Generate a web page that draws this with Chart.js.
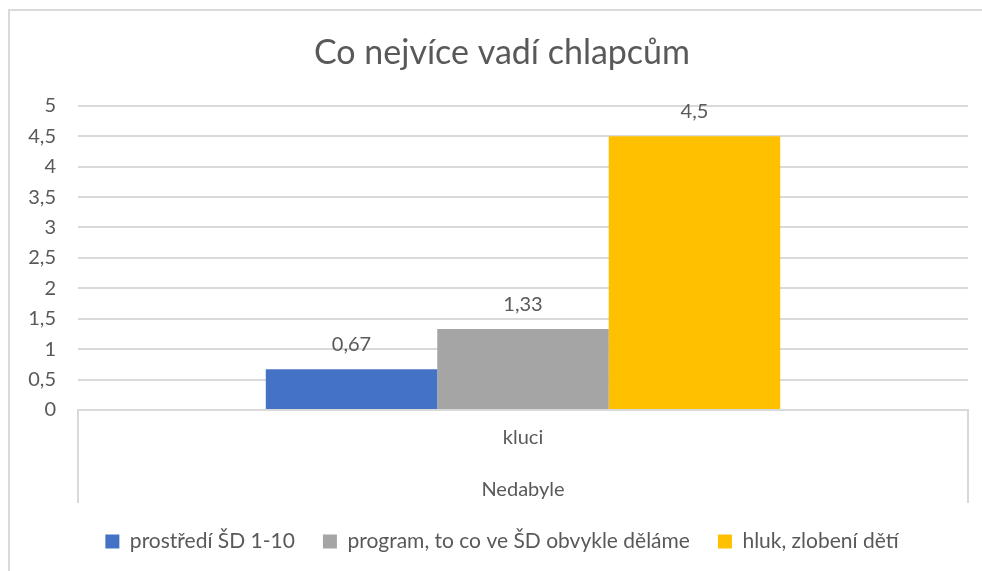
<!DOCTYPE html>
<html>
<head>
<meta charset="utf-8">
<script src="https://cdn.jsdelivr.net/npm/chart.js@4/dist/chart.umd.min.js"></script>
<style>
  html, body { margin: 0; padding: 0; background: #fff; overflow: hidden; }
  #frame { position: absolute; left: 8px; top: 9px; width: 1000px; height: 600px; border: 2px solid #d9d9d9; }
  #chart { position: absolute; left: 0; top: 0; }
</style>
</head>
<body>
<div id="frame"></div>
<canvas id="chart" width="982" height="571"></canvas>
<script>
// data
const categories = ['kluci'];
const groups = ['Nedabyle'];
const seriesNames = ['prostředí ŠD 1-10', 'program, to co ve ŠD obvykle děláme', 'hluk, zlobení dětí'];
const seriesValues = [[0.67], [1.33], [4.5]];
const seriesColors = ['#4472C4', '#A5A5A5', '#FFC000'];
const yTicks = [0, 0.5, 1, 1.5, 2, 2.5, 3, 3.5, 4, 4.5, 5];

const textColor = '#595959';
const gridColor = '#d9d9d9';
const font = 'Lato';
const fontSize = 20;

// czech decimal comma
function fmt(v) {
    return String(v).replace('.', ',');
}

// draws value labels above the bars
const valueLabels = {
    id: 'valueLabels',
    afterDatasetsDraw(chart) {
        const ctx = chart.ctx;
        ctx.save();
        ctx.fillStyle = textColor;
        ctx.font = fontSize + 'px ' + font;
        ctx.textAlign = 'center';
        ctx.textBaseline = 'bottom';
        chart.data.datasets.forEach((ds, i) => {
            chart.getDatasetMeta(i).data.forEach((bar, j) => {
                ctx.fillText(fmt(ds.data[j]), bar.x, bar.y - 15);
            });
        });
        ctx.restore();
    }
};

// vertical separators of the category axis box
const axisBox = {
    id: 'axisBox',
    afterDraw(chart) {
        const x = chart.scales.x, x2 = chart.scales.x2;
        const ctx = chart.ctx;
        ctx.save();
        ctx.strokeStyle = gridColor;
        ctx.lineWidth = 2;
        [x.left, x.right].forEach(px => {
            ctx.beginPath();
            ctx.moveTo(px, x.top);
            ctx.lineTo(px, x2.bottom);
            ctx.stroke();
        });
        ctx.restore();
    }
};

new Chart(document.getElementById('chart').getContext('2d'), {
    type: 'bar',
    data: {
        labels: categories,
        datasets: seriesNames.map((name, i) => ({
            label: name,
            data: seriesValues[i],
            backgroundColor: seriesColors[i],
            borderWidth: 0,
            categoryPercentage: 0.578,
            barPercentage: 1
        }))
    },
    options: {
        responsive: false,
        animation: false,
        devicePixelRatio: 1,
        // the excel frame runs past the right edge, so title and legend are centred on it
        layout: { padding: { left: 0, right: -22, top: 0, bottom: 9 } },
        plugins: {
            title: {
                display: true,
                text: 'Co nejvíce vadí chlapcům',
                color: textColor,
                font: { family: font, size: 34, weight: 'normal' },
                padding: { top: 33, bottom: 32 }
            },
            legend: {
                position: 'bottom',
                labels: {
                    color: textColor,
                    font: { family: font, size: 21 },
                    boxWidth: 14,
                    boxHeight: 14,
                    padding: 28
                }
            },
            tooltip: { enabled: false }
        },
        scales: {
            y: {
                min: 0,
                max: 5,
                afterBuildTicks: s => { s.ticks = yTicks.map(v => ({ value: v })); },
                afterFit: s => { s.width = 78; },
                ticks: {
                    color: textColor,
                    font: { family: font, size: fontSize },
                    padding: 22,
                    callback: v => fmt(v)
                },
                grid: { color: gridColor, lineWidth: 2, drawTicks: false },
                border: { display: false }
            },
            // empty spacer on the right
            yRight: {
                position: 'right',
                afterFit: s => { s.width = 36; },
                ticks: { display: false },
                grid: { display: false },
                border: { display: false }
            },
            x: {
                afterFit: s => { s.height = 55; },
                ticks: {
                    color: textColor,
                    font: { family: font, size: fontSize },
                    padding: 8
                },
                grid: { display: false },
                border: { display: true, color: gridColor, width: 2 }
            },
            x2: {
                type: 'category',
                labels: groups,
                position: 'bottom',
                offset: true,
                afterFit: s => { s.height = 38; },
                ticks: {
                    color: textColor,
                    font: { family: font, size: fontSize },
                    padding: 5
                },
                grid: { display: false },
                border: { display: false }
            }
        }
    },
    plugins: [valueLabels, axisBox]
});
</script>
</body>
</html>
